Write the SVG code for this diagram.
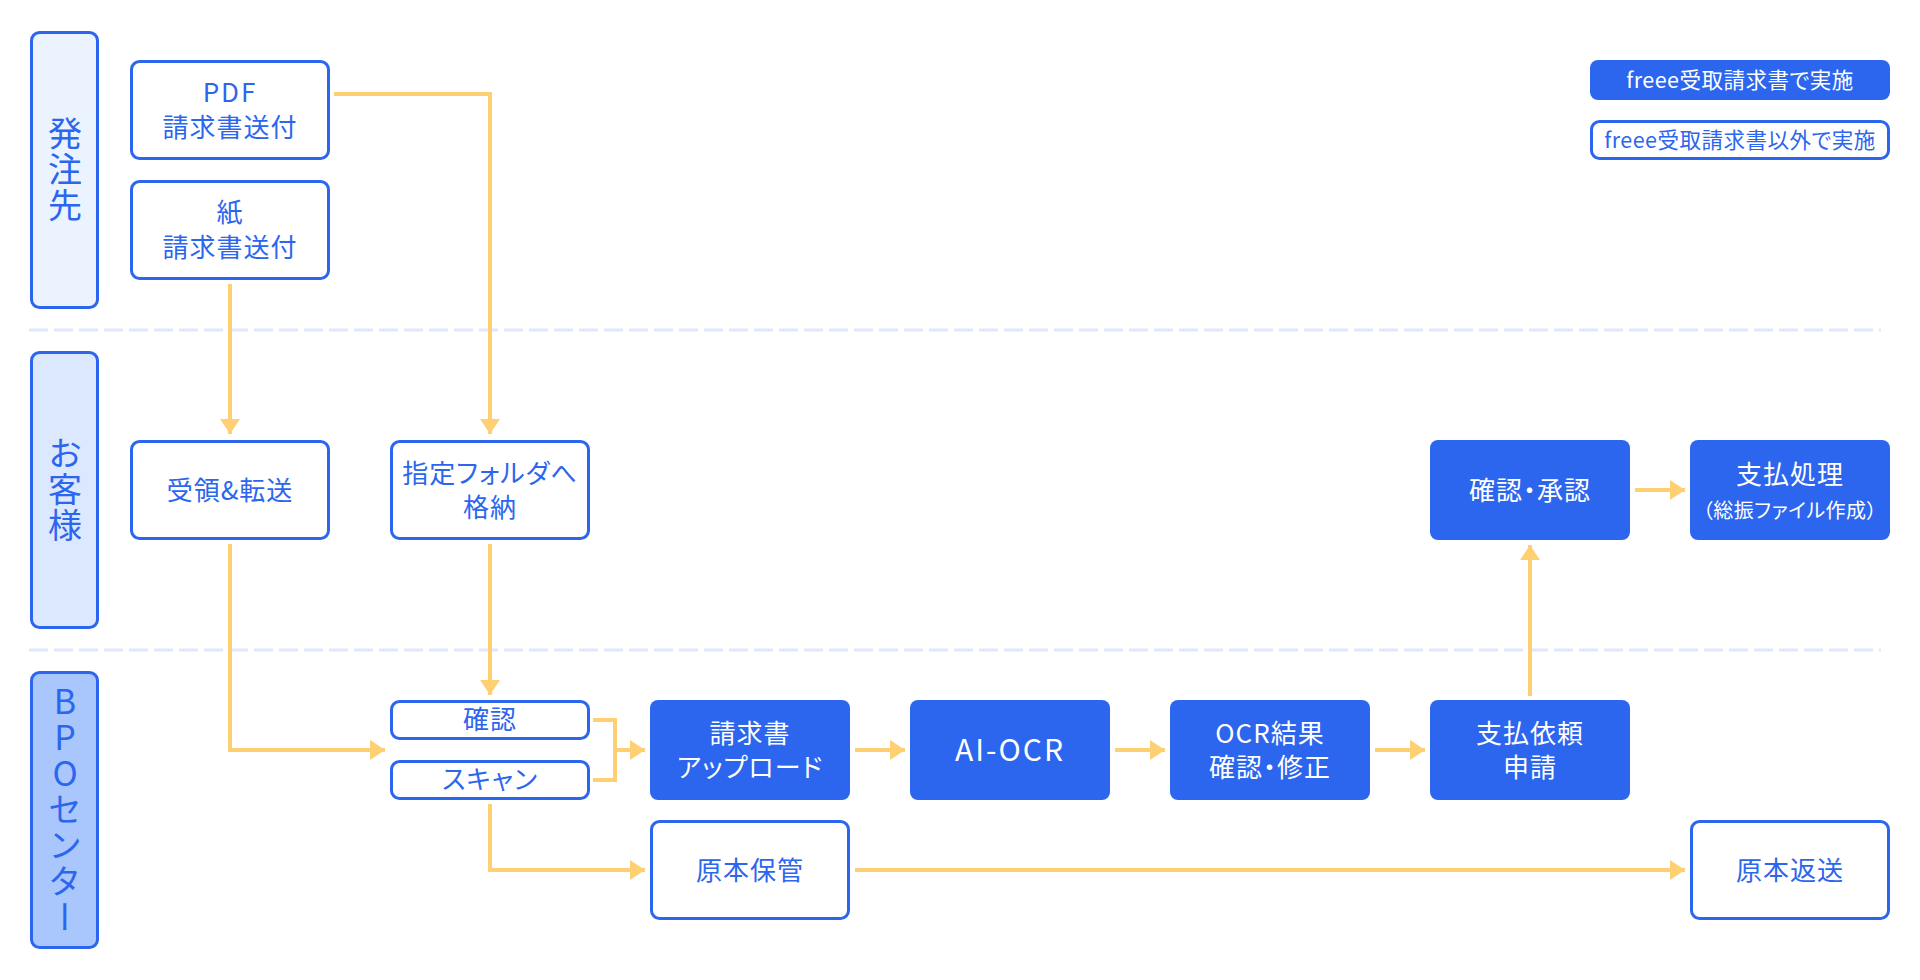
<svg xmlns="http://www.w3.org/2000/svg" width="1920" height="980" viewBox="0 0 1920 980">
<style>
text{font-family:"Noto Sans CJK JP","Noto Sans",sans-serif;font-feature-settings:"palt";font-weight:400;}
.lane{stroke:#2C66EE;stroke-width:3;}
.lt{fill:#2C66EE;font-size:34px;writing-mode:vertical-rl;text-orientation:upright;letter-spacing:2px;text-anchor:middle;}
.ob{fill:#fff;stroke:#2C66EE;stroke-width:3;}
.fb{fill:#2C66EE;}
.ot{fill:#2C66EE;font-size:26px;text-anchor:middle;letter-spacing:1px;}
.ft{fill:#fff;font-size:26px;text-anchor:middle;letter-spacing:1px;}
.sm{font-size:20px;letter-spacing:0.5px;}
.lg{font-size:21.5px;letter-spacing:0.5px;}
.sep{stroke:#DDE8FB;stroke-width:3;stroke-dasharray:19 6;fill:none;}
.c{stroke:#FFCF73;stroke-width:4;fill:none;}
</style>
<defs>
<marker id="ah" viewBox="0 0 15 20" refX="15" refY="10" markerWidth="15" markerHeight="20" markerUnits="userSpaceOnUse" orient="auto">
<path d="M0,0 L15,10 L0,20 Z" fill="#FFCF73"/>
</marker>
</defs>

<g id="separators">
<line class="sep" x1="29" y1="330" x2="1881" y2="330"/>
<line class="sep" x1="29" y1="650" x2="1881" y2="650"/>
</g>

<g id="lane-hacchusaki">
<rect class="lane" x="31.5" y="32.5" width="66" height="275" rx="8" fill="#EBF3FE"/>
<text class="lt" x="65" y="170">発注先</text>
</g>
<g id="lane-okyakusama">
<rect class="lane" x="31.5" y="352.5" width="66" height="275" rx="8" fill="#DCE8FD"/>
<text class="lt" x="65" y="490">お客様</text>
</g>
<g id="lane-bpo">
<rect class="lane" x="31.5" y="672.5" width="66" height="275" rx="8" fill="#A9C7FD"/>
<text class="lt" x="65" y="810">BPOセンター</text>
</g>

<g id="legend-freee">
<rect class="fb" x="1590" y="60" width="300" height="40" rx="8"/>
<text class="ft lg" x="1740" y="88">freee受取請求書で実施</text>
</g>
<g id="legend-other">
<rect class="ob" x="1591.5" y="121.5" width="297" height="37" rx="8"/>
<text class="ot lg" x="1740" y="148">freee受取請求書以外で実施</text>
</g>

<g id="connectors">
<polyline class="c" points="334,94 490,94 490,434" marker-end="url(#ah)"/>
<line class="c" x1="230" y1="284" x2="230" y2="434" marker-end="url(#ah)"/>
<polyline class="c" points="230,544 230,750 385,750" marker-end="url(#ah)"/>
<line class="c" x1="490" y1="544" x2="490" y2="695" marker-end="url(#ah)"/>
<polyline class="c" points="593,720 615,720 615,780 593,780"/>
<line class="c" x1="615" y1="750" x2="645" y2="750" marker-end="url(#ah)"/>
<polyline class="c" points="490,804 490,870 645,870" marker-end="url(#ah)"/>
<line class="c" x1="855" y1="750" x2="905" y2="750" marker-end="url(#ah)"/>
<line class="c" x1="1115" y1="750" x2="1165" y2="750" marker-end="url(#ah)"/>
<line class="c" x1="1375" y1="750" x2="1425" y2="750" marker-end="url(#ah)"/>
<line class="c" x1="1530" y1="696" x2="1530" y2="545" marker-end="url(#ah)"/>
<line class="c" x1="1635" y1="490" x2="1685" y2="490" marker-end="url(#ah)"/>
<line class="c" x1="855" y1="870" x2="1685" y2="870" marker-end="url(#ah)"/>
</g>

<g id="n-pdf">
<rect class="ob" x="131.5" y="61.5" width="197" height="97" rx="8"/>
<text class="ot" x="230" y="102" style="letter-spacing:2px">PDF</text>
<text class="ot" x="230" y="137">請求書送付</text>
</g>
<g id="n-paper">
<rect class="ob" x="131.5" y="181.5" width="197" height="97" rx="8"/>
<text class="ot" x="230" y="222">紙</text>
<text class="ot" x="230" y="257">請求書送付</text>
</g>
<g id="n-receive">
<rect class="ob" x="131.5" y="441.5" width="197" height="97" rx="8"/>
<text class="ot" x="230" y="500">受領&amp;転送</text>
</g>
<g id="n-folder">
<rect class="ob" x="391.5" y="441.5" width="197" height="97" rx="8"/>
<text class="ot" x="490" y="483">指定フォルダへ</text>
<text class="ot" x="490" y="517">格納</text>
</g>
<g id="n-check">
<rect class="ob" x="391.5" y="701.5" width="197" height="37" rx="8"/>
<text class="ot" x="490" y="729">確認</text>
</g>
<g id="n-scan">
<rect class="ob" x="391.5" y="761.5" width="197" height="37" rx="8"/>
<text class="ot" x="490" y="789">スキャン</text>
</g>
<g id="n-upload">
<rect class="fb" x="650" y="700" width="200" height="100" rx="8"/>
<text class="ft" x="750" y="743">請求書</text>
<text class="ft" x="750" y="777">アップロード</text>
</g>
<g id="n-aiocr">
<rect class="fb" x="910" y="700" width="200" height="100" rx="8"/>
<text class="ft" x="1010" y="761" style="font-size:30px;letter-spacing:2px">AI-OCR</text>
</g>
<g id="n-ocrcheck">
<rect class="fb" x="1170" y="700" width="200" height="100" rx="8"/>
<text class="ft" x="1270" y="743">OCR結果</text>
<text class="ft" x="1270" y="777">確認・修正</text>
</g>
<g id="n-payreq">
<rect class="fb" x="1430" y="700" width="200" height="100" rx="8"/>
<text class="ft" x="1530" y="743">支払依頼</text>
<text class="ft" x="1530" y="777">申請</text>
</g>
<g id="n-approve">
<rect class="fb" x="1430" y="440" width="200" height="100" rx="8"/>
<text class="ft" x="1530" y="500">確認・承認</text>
</g>
<g id="n-payment">
<rect class="fb" x="1690" y="440" width="200" height="100" rx="8"/>
<text class="ft" x="1790" y="484">支払処理</text>
<text class="ft sm" x="1790" y="518">（総振ファイル作成）</text>
</g>
<g id="n-storage">
<rect class="ob" x="651.5" y="821.5" width="197" height="97" rx="8"/>
<text class="ot" x="750" y="880">原本保管</text>
</g>
<g id="n-return">
<rect class="ob" x="1691.5" y="821.5" width="197" height="97" rx="8"/>
<text class="ot" x="1790" y="880">原本返送</text>
</g>
</svg>
